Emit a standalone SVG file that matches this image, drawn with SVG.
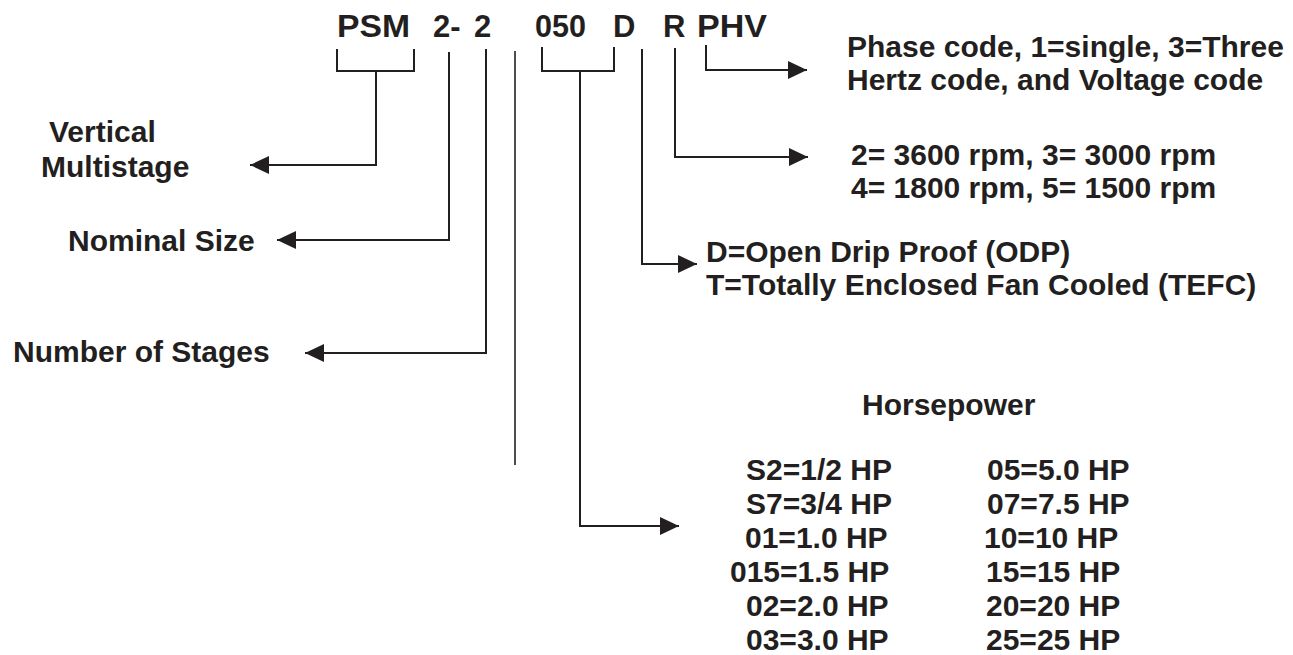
<svg xmlns="http://www.w3.org/2000/svg" width="1293" height="655" viewBox="0 0 1293 655">
<style>
text{font-family:"Liberation Sans",Arial,sans-serif;font-weight:bold;font-size:30px;fill:#231f20}
.hd{font-size:31px}
.ln{fill:none;stroke:#231f20;stroke-width:2}
.thin{fill:none;stroke:#231f20;stroke-width:1.6}
</style>
<defs>
<marker id="ah" markerUnits="userSpaceOnUse" markerWidth="20" markerHeight="18" refX="19" refY="9" orient="auto">
<path d="M0,0 L19,9 L0,18 z" fill="#231f20"/>
</marker>
</defs>
<rect width="1293" height="655" fill="#ffffff"/>
<g id="model-code">
<text class="hd" x="337" y="37" textLength="73" lengthAdjust="spacingAndGlyphs">PSM</text>
<text class="hd" x="433" y="37">2-</text>
<text class="hd" x="474" y="37">2</text>
<text class="hd" x="535" y="37" textLength="51" lengthAdjust="spacingAndGlyphs">050</text>
<text class="hd" x="613" y="37">D</text>
<text class="hd" x="663" y="37">R</text>
<text class="hd" x="697" y="37" textLength="70" lengthAdjust="spacingAndGlyphs">PHV</text>
</g>
<g id="connectors">
<path class="ln" d="M337,49 V71 H414 V49"/>
<path class="ln" d="M376,71 V165 H250" marker-end="url(#ah)"/>
<path class="ln" d="M449,52 V240 H277" marker-end="url(#ah)"/>
<path class="ln" d="M486,49 V353 H305" marker-end="url(#ah)"/>
<path class="thin" d="M515,51 V465"/>
<path class="ln" d="M542,47 V71 H614 V47"/>
<path class="ln" d="M580,71 V526 H679" marker-end="url(#ah)"/>
<path class="ln" d="M642,49 V264 H697" marker-end="url(#ah)"/>
<path class="ln" d="M675,48 V157 H808" marker-end="url(#ah)"/>
<path class="ln" d="M706,45 V70 H807" marker-end="url(#ah)"/>
</g>
<g id="vertical-multistage">
<text x="49" y="142">Vertical</text>
<text x="41" y="177">Multistage</text>
</g>
<g id="nominal-size">
<text x="68" y="251">Nominal Size</text>
</g>
<g id="number-of-stages">
<text x="13" y="362">Number of Stages</text>
</g>
<g id="phase-hertz-voltage">
<text x="847" y="57">Phase code, 1=single, 3=Three</text>
<text x="847" y="90">Hertz code, and Voltage code</text>
</g>
<g id="speed">
<text x="851" y="165">2= 3600 rpm, 3= 3000 rpm</text>
<text x="851" y="198">4= 1800 rpm, 5= 1500 rpm</text>
</g>
<g id="enclosure">
<text x="706" y="262">D=Open Drip Proof (ODP)</text>
<text x="706" y="295">T=Totally Enclosed Fan Cooled (TEFC)</text>
</g>
<g id="horsepower">
<text x="862" y="415">Horsepower</text>
<text x="746" y="480">S2=1/2 HP</text>
<text x="746" y="514">S7=3/4 HP</text>
<text x="745" y="548">01=1.0 HP</text>
<text x="730" y="582">015=1.5 HP</text>
<text x="746" y="616">02=2.0 HP</text>
<text x="746" y="650">03=3.0 HP</text>
<text x="987" y="480">05=5.0 HP</text>
<text x="987" y="514">07=7.5 HP</text>
<text x="984" y="548">10=10 HP</text>
<text x="986" y="582">15=15 HP</text>
<text x="986" y="616">20=20 HP</text>
<text x="986" y="650">25=25 HP</text>
</g>
</svg>
